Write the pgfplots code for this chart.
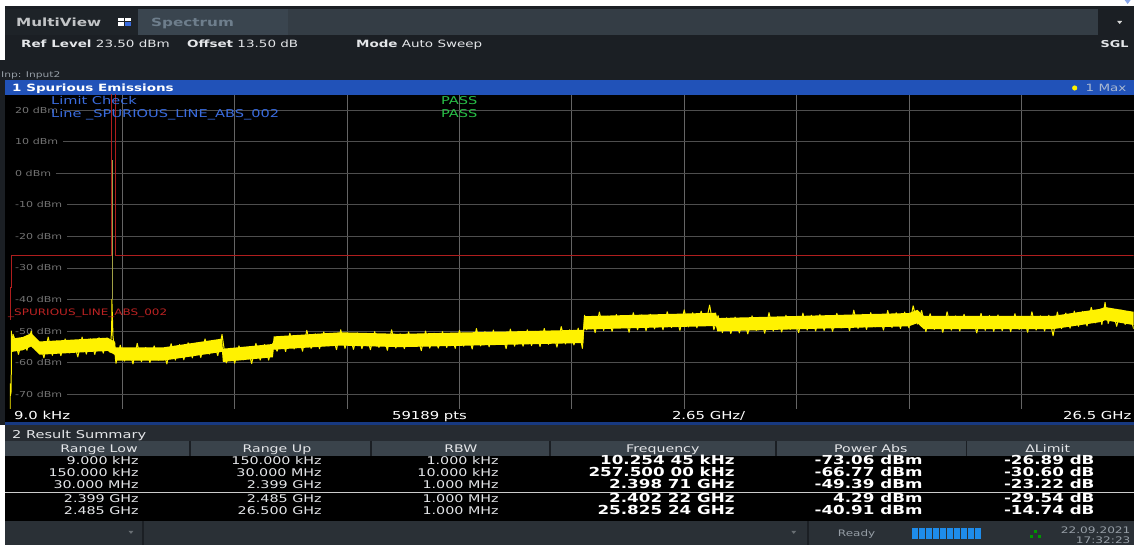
\documentclass[border=0pt]{standalone}
\usepackage{fontspec}
\setmainfont{DejaVu Sans}[FakeStretch=1.35]
\usepackage{pgfplots}
\pgfplotsset{compat=1.18}
\definecolor{bgdark}{RGB}{27,31,36}
\definecolor{tabbar}{RGB}{52,61,69}
\definecolor{tabdark}{RGB}{30,35,40}
\definecolor{tabspec}{RGB}{58,69,79}
\definecolor{spectxt}{RGB}{110,126,140}
\definecolor{hdrblue}{RGB}{33,82,184}
\definecolor{lcblue}{RGB}{58,108,222}
\definecolor{passgreen}{RGB}{40,190,70}
\definecolor{limred}{RGB}{175,30,30}
\definecolor{labred}{RGB}{190,35,35}
\definecolor{tickgray}{RGB}{115,115,115}
\definecolor{hgrid}{RGB}{78,78,78}
\definecolor{vgrid}{RGB}{100,100,100}
\definecolor{sumrow}{RGB}{38,43,49}
\definecolor{hdrgray}{RGB}{58,67,75}
\definecolor{statbar}{RGB}{42,48,54}
\definecolor{txtw}{RGB}{228,230,233}
\definecolor{progblue}{RGB}{30,140,235}
\definecolor{dimspike}{RGB}{160,160,70}
\definecolor{maxtxt}{RGB}{170,185,210}
\definecolor{graytxt}{RGB}{150,158,166}
\newcommand\fs[1]{\fontsize{#1}{#1}\selectfont}
\begin{document}
\begin{tikzpicture}
\begin{scope}[x=1pt,y=-1pt]
\useasboundingbox (0,0) rectangle (1134,547);
\fill[white] (0,0) rectangle (1134,547);
\fill[bgdark] (5,6) rectangle (1134,545);
\fill[bgdark] (0,60) rectangle (5,425);
% tab bar
\fill[tabbar] (288,9) rectangle (1098,35);
\fill[tabdark] (5,9) rectangle (138,35);
\fill[tabspec] (138,9) rectangle (288,35);
\node[anchor=base west,inner sep=0,font=\bfseries\fs{11.3},text=txtw!85!black] at (16,27) {MultiView};
\fill[white] (118,18) rectangle (124,21.3);
\fill[white] (125.5,18) rectangle (131.5,21.3);
\fill[white] (118,22.5) rectangle (124,25.8);
\fill[lcblue] (125.5,22.5) rectangle (131.5,25.8);
\node[anchor=base west,inner sep=0,font=\bfseries\fs{11.3},text=spectxt] at (151,27) {Spectrum};
\fill[white!85!black] (1117.5,21) -- (1122.5,21) -- (1120,24) -- cycle;
% info row
\node[anchor=base west,inner sep=0,font=\fs{10},text=txtw] at (21,48) {\textbf{Ref Level} 23.50 dBm};
\node[anchor=base west,inner sep=0,font=\fs{10},text=txtw] at (187,48) {\textbf{Offset} 13.50 dB};
\node[anchor=base west,inner sep=0,font=\fs{10},text=txtw] at (356,48) {\textbf{Mode} Auto Sweep};
\node[anchor=base east,inner sep=0,font=\bfseries\fs{9.5},text=txtw] at (1129,48) {SGL};
\node[anchor=base west,inner sep=0,font=\fs{7.9},text=graytxt] at (1,78) {Inp: Input2};
% blue header
\fill[hdrblue] (5,80) rectangle (1134,95);
\node[anchor=base west,inner sep=0,font=\bfseries\fs{10},text=white] at (12,92) {1 Spurious Emissions};
\fill[yellow] (1075,88) circle (2.6);
\node[anchor=base east,inner sep=0,font=\fs{10},text=maxtxt] at (1127,92) {1 Max};
% plot area background
\fill[black] (5,95) rectangle (1134,422);
\fill[hdrblue!70!black] (5,422) rectangle (1134,425);
% result summary
\fill[sumrow] (5,425) rectangle (1134,441);
\node[anchor=base west,inner sep=0,font=\fs{10.8},text=txtw] at (12,439) {2 Result Summary};
\fill[hdrgray] (5,441) rectangle (1134,456);
\foreach \xs in {190,371,550,776,967} {\draw[bgdark,line width=1.5pt] (\xs,441) -- (\xs,456);}
\foreach \xc/\t in {99/Range Low,277/Range Up,461/RBW,663/Frequency,871/Power Abs,1048/ΔLimit}
  {\node[anchor=base,inner sep=0,font=\fs{10.5},text=txtw] at (\xc,453) {\t};}
\fill[black] (5,456) rectangle (1134,521);
\draw[white!80!black,line width=0.8pt] (5,492.5) -- (1134,492.5);
\foreach \yb/\a/\b/\c in {465/9.000 kHz/150.000 kHz/1.000 kHz,477/150.000 kHz/30.000 MHz/10.000 kHz,489/30.000 MHz/2.399 GHz/1.000 MHz,503/2.399 GHz/2.485 GHz/1.000 MHz,515/2.485 GHz/26.500 GHz/1.000 MHz}
  {\node[anchor=base east,inner sep=0,font=\fs{10.6},text=txtw] at (139,\yb) {\a};
   \node[anchor=base east,inner sep=0,font=\fs{10.6},text=txtw] at (322,\yb) {\b};
   \node[anchor=base east,inner sep=0,font=\fs{10.6},text=txtw] at (499,\yb) {\c};}
\foreach \yb/\a/\b/\c in {465/10.254 45 kHz/-73.06 dBm/-26.89 dB,477/257.500 00 kHz/-66.77 dBm/-30.60 dB,489/2.398 71 GHz/-49.39 dBm/-23.22 dB,503/2.402 22 GHz/4.29 dBm/-29.54 dB,515/25.825 24 GHz/-40.91 dBm/-14.74 dB}
  {\node[anchor=base east,inner sep=0,font=\bfseries\fs{12.4},text=white] at (735,\yb) {\a};
   \node[anchor=base east,inner sep=0,font=\bfseries\fs{12.4},text=white] at (923,\yb) {\b};
   \node[anchor=base east,inner sep=0,font=\bfseries\fs{12.4},text=white] at (1095,\yb) {\c};}
% status bar
\fill[statbar] (5,521) rectangle (1134,545);
\draw[bgdark,line width=1.5pt] (143,521) -- (143,545);
\draw[bgdark,line width=1.5pt] (808,521) -- (808,545);
\fill[graytxt!70!black] (128.5,531) -- (133.5,531) -- (131,534) -- cycle;
\fill[graytxt!70!black] (791.5,531) -- (796.5,531) -- (794,534) -- cycle;
\node[anchor=base west,inner sep=0,font=\fs{8.9},text=graytxt] at (838,537) {Ready};
\foreach \i in {0,...,9} {\fill[progblue] (912+7*\i,528) rectangle (918.3+7*\i,539);}
\fill[green!60!black] (1034,530) rectangle (1037,533);
\fill[green!60!black] (1030,535) rectangle (1033,538);
\fill[green!60!black] (1038,535) rectangle (1041,538);
\node[anchor=base east,inner sep=0,font=\fs{9},text=graytxt] at (1131,533.5) {22.09.2021};
\node[anchor=base east,inner sep=0,font=\fs{9},text=graytxt] at (1131,544) {17:32:23};
\fill[lcblue!60!white] (1125,0) -- (1131,0) -- (1128,4) -- cycle;
\end{scope}
\begin{axis}[
  at={(10pt,-409pt)}, anchor=south west,
  width=1124pt, height=314pt, scale only axis,
  xmin=0, xmax=26.5, ymin=-74.65, ymax=24.75,
  axis background/.style={fill=black},
  axis line style={draw=none},
  major tick length=0pt,
  xtick={2.65,5.3,7.95,10.6,13.25,15.9,18.55,21.2,23.85},
  xticklabels={},
  ytick={-70,-60,-50,-40,-30,-20,-10,0,10,20},
  yticklabels={-70 dBm,-60 dBm,-50 dBm,-40 dBm,-30 dBm,-20 dBm,-10 dBm,0 dBm,10 dBm,20 dBm},
  xmajorgrids, ymajorgrids,
  x grid style={draw=vgrid,line width=0.7pt},
  y grid style={draw=hgrid,line width=0.7pt},
  yticklabel style={anchor=west,xshift=0pt,inner ysep=1pt,inner xsep=5pt,fill=black,text=tickgray,font=\fs{8.2}},
]
\addplot[limred,line width=0.8pt] coordinates {(0.000009,-46.17)(0.00015,-46.17)(0.00015,-36.17)(0.03,-36.17)(0.03,-26.17)(2.399,-26.17)(2.399,33.83)(2.485,33.83)(2.485,-26.17)(26.5,-26.17)};
\addplot[dimspike,line width=0.7pt] coordinates {(2.40222,-40.0)(2.40222,4.29)};
% core of the noise band
\addplot[fill=yellow,draw=none] coordinates {
(0.031,-52.4)(0.3,-51.9)(0.5,-50.7)(0.7,-53.3)(2.3,-52.1)(2.48,-53.4)(2.49,-55.2)(3.6,-55.2)(5.0,-52.4)(5.02,-55.6)(6.2,-54.1)(6.22,-51.7)(7.8,-50.4)(9.2,-50.9)(13.52,-49.6)(13.54,-45.3)(16.65,-44.2)(16.68,-45.9)(21.2,-44.3)(21.4,-43.3)(21.55,-45.2)(24.6,-45.2)(25.7,-43.0)(25.825,-42.4)(26.5,-43.9)
(26.5,-48.1)(25.825,-46.6)(25.7,-47.2)(24.6,-49.4)(21.55,-49.4)(21.4,-47.5)(21.2,-48.5)(16.68,-50.1)(16.65,-48.4)(13.54,-49.5)(13.52,-53.8)(9.2,-55.1)(7.8,-54.6)(6.22,-55.9)(6.2,-58.3)(5.02,-59.8)(5.0,-56.6)(3.6,-59.4)(2.49,-59.4)(2.48,-57.6)(2.3,-56.3)(0.7,-57.5)(0.5,-54.9)(0.3,-56.1)(0.031,-56.6)
} -- cycle;
\addplot[yellow,line width=1.0pt,line join=round] coordinates {
(0.000009,-74.5)(0.0000103,-73.06)(0.00013,-75)(0.0002575,-66.77)(0.01,-70.5)(0.029,-69.0)(0.031,-50.0)(0.05,-56.5)(0.07,-51.0)
(0.1,-52.1)(0.2,-57.4)(0.3,-52.1)(0.4,-56.1)(0.5,-50.0)(0.6,-56.0)(0.7,-53.8)(0.8,-58.5)(0.9,-51.9)(1.0,-57.7)(1.1,-53.1)(1.2,-57.8)(1.3,-52.5)(1.4,-56.9)(1.5,-53.3)(1.6,-58.2)(1.7,-51.9)(1.8,-57.3)(1.9,-52.5)(2.0,-57.4)(2.1,-52.1)(2.2,-57.0)(2.3,-52.3)(2.36,-56.8)(2.39871,-49.39)(2.40222,-40.0)(2.43,-52.0)(2.47,-55.5)(2.485,-58.5)
(2.5,-60.2)(2.6,-54.5)(2.7,-59.5)(2.8,-55.7)(2.9,-60.4)(3.0,-53.9)(3.1,-59.7)(3.2,-55.2)(3.3,-60.0)(3.4,-54.7)(3.5,-59.2)(3.6,-55.6)(3.7,-60.4)(3.8,-54.0)(3.9,-59.2)(4.0,-54.3)(4.1,-59.1)(4.2,-53.7)(4.3,-58.5)(4.4,-53.8)(4.5,-58.4)(4.6,-52.5)(4.7,-57.3)(4.8,-53.3)(4.9,-57.8)(5.0,-51.1)
(5.1,-60.1)(5.2,-55.5)(5.3,-60.2)(5.4,-54.7)(5.5,-59.1)(5.6,-55.4)(5.7,-60.3)(5.8,-53.9)(5.9,-59.2)(6.0,-54.3)(6.1,-59.2)(6.2,-53.8)
(6.3,-56.4)(6.4,-51.8)(6.5,-56.5)(6.6,-50.7)(6.7,-55.7)(6.8,-51.8)(6.9,-56.4)(7.0,-49.8)(7.1,-55.5)(7.2,-50.9)(7.3,-55.6)(7.4,-50.3)(7.5,-54.7)(7.6,-51.0)(7.7,-55.9)(7.8,-49.6)(7.9,-55.5)(8.0,-50.8)(8.1,-55.8)(8.2,-50.6)(8.3,-55.6)(8.4,-51.1)(8.5,-55.9)(8.6,-50.2)(8.7,-55.2)(8.8,-51.4)(8.9,-56.1)(9.0,-49.6)(9.1,-55.4)(9.2,-50.9)
(9.3,-55.6)(9.4,-50.3)(9.5,-54.8)(9.6,-51.2)(9.7,-56.2)(9.8,-50.0)(9.9,-55.4)(10.0,-50.7)(10.1,-55.4)(10.2,-50.2)(10.3,-55.2)(10.4,-50.7)(10.5,-55.5)(10.6,-49.8)(10.7,-54.8)(10.8,-51.0)(10.9,-55.7)(11.0,-49.2)(11.1,-54.7)(11.2,-50.2)(11.3,-55.0)(11.4,-49.7)(11.5,-54.2)(11.6,-50.6)(11.7,-55.6)(11.8,-49.4)(11.9,-54.8)(12.0,-50.1)(12.1,-54.8)(12.2,-49.6)(12.3,-54.6)(12.4,-50.1)(12.5,-54.9)(12.6,-49.2)(12.7,-54.2)(12.8,-50.4)(12.9,-55.1)(13.0,-48.6)(13.1,-54.1)(13.2,-49.6)(13.3,-54.4)(13.4,-49.1)(13.5,-55.5)
(13.55,-45.0)(13.6,-49.6)(13.7,-45.8)(13.8,-50.5)(13.9,-44.0)(14.0,-49.8)(14.1,-45.3)(14.2,-50.1)(14.3,-44.8)(14.4,-49.0)(14.5,-45.4)(14.6,-50.4)(14.7,-44.2)(14.8,-49.6)(14.9,-44.9)(15.0,-49.9)(15.1,-44.7)(15.2,-49.3)(15.3,-44.8)(15.4,-49.6)(15.5,-43.9)(15.6,-48.9)(15.7,-45.1)(15.8,-49.8)(15.9,-43.3)(16.0,-48.7)(16.1,-44.2)(16.2,-49.0)(16.3,-43.7)(16.4,-48.2)(16.5,-41.8)(16.6,-49.6)
(16.7,-45.1)(16.8,-50.5)(16.9,-45.8)(17.0,-50.8)(17.1,-45.6)(17.2,-50.6)(17.3,-46.1)(17.4,-50.9)(17.5,-45.2)(17.6,-49.8)(17.7,-46.0)(17.8,-50.7)(17.9,-44.2)(18.0,-50.0)(18.1,-45.5)(18.2,-50.3)(18.3,-45.0)(18.4,-49.5)(18.5,-45.9)(18.6,-50.5)(18.7,-44.3)(18.8,-49.7)(18.9,-45.0)(19.0,-50.0)(19.1,-44.8)(19.2,-49.8)(19.3,-45.3)(19.4,-50.1)(19.5,-44.4)(19.6,-49.0)(19.7,-45.2)(19.8,-49.9)(19.9,-43.4)(20.0,-49.2)(20.1,-44.7)(20.2,-49.5)(20.3,-44.2)(20.4,-48.7)(20.5,-45.1)(20.6,-49.7)(20.7,-43.5)(20.8,-48.9)(20.9,-44.2)(21.0,-49.2)(21.1,-44.0)(21.2,-49.0)
(21.3,-42.0)(21.4,-47.8)(21.5,-43.5)
(21.6,-50.2)(21.7,-44.5)(21.8,-49.5)(21.9,-45.7)(22.0,-50.4)(22.1,-43.9)(22.2,-49.7)(22.3,-45.2)(22.4,-50.0)(22.5,-44.7)(22.6,-49.2)(22.7,-45.6)(22.8,-50.6)(22.9,-44.4)(23.0,-49.8)(23.1,-45.1)(23.2,-50.1)(23.3,-44.9)(23.4,-49.9)(23.5,-45.4)(23.6,-50.2)(23.7,-44.5)(23.8,-49.5)(23.9,-45.7)(24.0,-50.4)(24.1,-43.9)(24.2,-49.7)(24.3,-45.2)(24.4,-50.0)(24.5,-45.0)(24.6,-51.5)
(24.7,-44.0)(24.8,-49.2)(24.9,-44.3)(25.0,-49.1)(25.1,-43.7)(25.2,-48.5)(25.3,-43.8)(25.4,-48.4)(25.5,-42.5)(25.6,-47.4)(25.7,-43.5)(25.75,-48.0)(25.825,-40.91)(25.9,-47.6)(26.0,-43.5)(26.1,-48.5)(26.2,-43.3)(26.3,-47.9)(26.4,-44.3)(26.5,-49.3)
};
\end{axis}
\begin{scope}[x=1pt,y=-1pt]
\node[anchor=base west,inner sep=0,font=\fs{10.8},text=lcblue] at (51,105) {Limit Check};
\node[anchor=base west,inner sep=0,font=\fs{10.8},text=lcblue] at (51,118) {Line \_SPURIOUS\_LINE\_ABS\_002};
\node[anchor=base west,inner sep=0,font=\fs{10.8},text=passgreen] at (441,105) {PASS};
\node[anchor=base west,inner sep=0,font=\fs{10.8},text=passgreen] at (441,118) {PASS};
\node[anchor=base west,inner sep=0,font=\fs{8.9},text=labred] at (8,316) {\_SPURIOUS\_LINE\_ABS\_002};
\node[anchor=base west,inner sep=0,font=\fs{11},text=white] at (14,420) {9.0 kHz};
\node[anchor=base west,inner sep=0,font=\fs{11},text=white] at (392,420) {59189 pts};
\node[anchor=base west,inner sep=0,font=\fs{11},text=white] at (672,420) {2.65 GHz/};
\node[anchor=base east,inner sep=0,font=\fs{11},text=white] at (1132,420) {26.5 GHz};
\end{scope}
\end{tikzpicture}
\end{document}
